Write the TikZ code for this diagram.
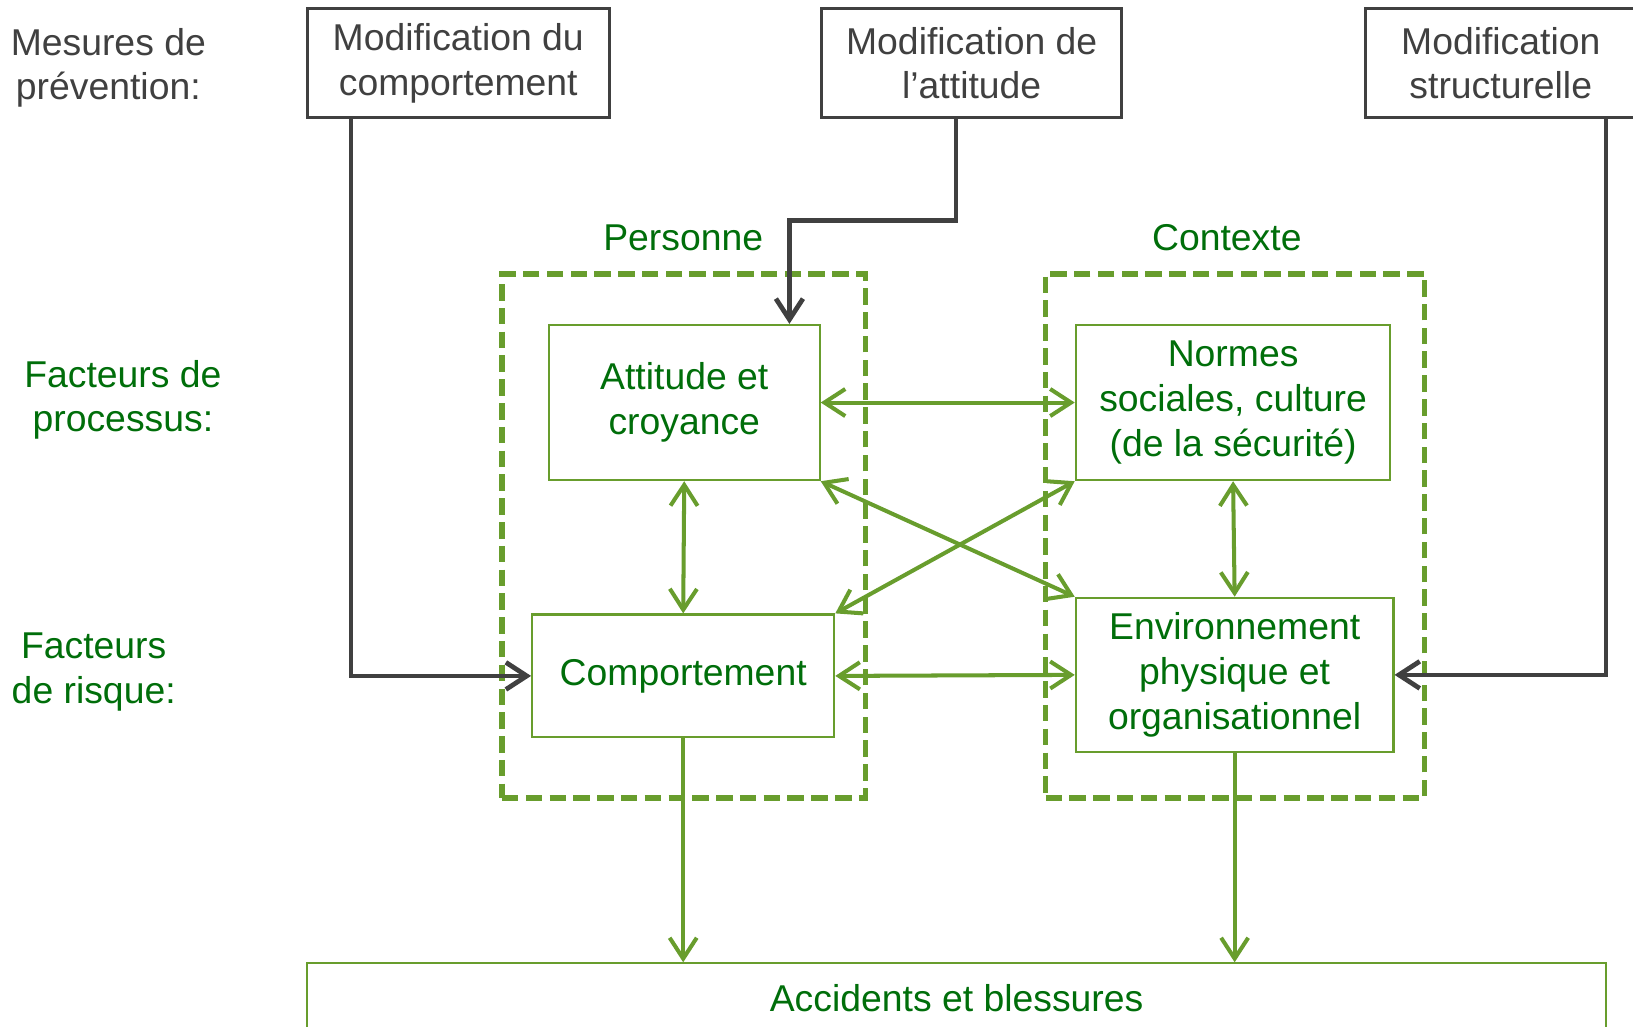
\documentclass[tikz,border=0pt]{standalone}
\usepackage{fontspec}
\setmainfont{Liberation Sans}
\usetikzlibrary{arrows.meta}
\definecolor{txtgreen}{RGB}{0,110,10}
\definecolor{lngreen}{RGB}{104,157,45}
\definecolor{darkgr}{RGB}{64,64,64}
\begin{document}
\begin{tikzpicture}[->,>={Straight Barb[length=2mm,width=2.6mm]},font=\fontsize{10.2pt}{12.2pt}\selectfont,
    measure/.style={draw=darkgr,line width=0.7pt,text=darkgr,align=center,inner sep=0pt,minimum height=1.05cm},
    factor/.style={draw=lngreen,line width=0.6pt,text=txtgreen,align=center,inner sep=0pt},
    area/.style={draw=lngreen,line width=1.5pt,dash pattern=on 4.5pt off 2pt,inner sep=0pt},
    note/.style={align=center,inner sep=0pt},
    link/.style={<->,lngreen,line width=1.1pt},
    push/.style={darkgr,line width=1.3pt}]
    \useasboundingbox (0,0) rectangle (15.68,-9.86);
    % rangees a gauche
    \node [note,text=darkgr] (mes) at (1.04,-0.65) {Mesures de\\pr\'evention:};
    \node [note,text=txtgreen] (proc) at (1.18,-3.84) {Facteurs de\\processus:};
    \node [note,text=txtgreen] (risk) at (0.90,-6.45) {Facteurs\\de risque:};
    % mesures de prevention
    \node [measure,minimum width=2.90cm] (modcomp) at (4.40,-0.605) {Modification du\\comportement};
    \node [measure,minimum width=2.88cm] (modatt) at (9.33,-0.605) {Modification de\\l'attitude};
    \node [measure,minimum width=2.60cm] (modstr) at (14.41,-0.605) {Modification\\structurelle};
    % personne et contexte
    \node [area,minimum width=3.49cm,minimum height=5.03cm] (pers) at (6.565,-5.145) {};
    \node [area,minimum width=3.64cm,minimum height=5.03cm] (ctx) at (11.86,-5.145) {};
    \node [note,text=txtgreen] (perslbl) at (6.56,-2.28) {Personne};
    \node [note,text=txtgreen] (ctxlbl) at (11.78,-2.28) {Contexte};
    \node [factor,minimum width=2.60cm,minimum height=1.49cm] (att) at (6.57,-3.865) {Attitude et\\croyance};
    \node [factor,minimum width=3.02cm,minimum height=1.49cm] (norm) at (11.84,-3.865) {Normes\\sociales, culture\\(de la s\'ecurit\'e)};
    \node [factor,minimum width=2.90cm,minimum height=1.18cm] (comp) at (6.56,-6.49) {Comportement};
    \node [factor,minimum width=3.05cm,minimum height=1.48cm] (env) at (11.855,-6.48) {Environnement\\physique et\\organisationnel};
    \node [factor,minimum width=12.47cm,minimum height=0.66cm] (acc) at (9.185,-9.58) {Accidents et blessures};
    % fleches des mesures
    \coordinate (bend) at (7.58,-2.12);
    \draw [push] ([xshift=-1.03cm]modcomp.south) |- (comp.west);
    \draw [push] ([xshift=-0.15cm]modatt.south) |- (bend) -- (bend |- att.north);
    \draw [push] ([xshift=1.01cm]modstr.south) |- (env.east);
    % liens entre facteurs
    \draw [link] (att.east) -- (norm.west);
    \draw [link] (att.south) -- (comp.north);
    \draw [link] (norm.south) -- (env.north);
    \draw [link] (comp.east) -- (env.west);
    \draw [link] (att.south east) -- (env.north west);
    \draw [link] (norm.south west) -- (comp.north east);
    \draw [link,-{Straight Barb[length=2mm,width=2.6mm]}] (comp.south) -- (comp.south |- acc.north);
    \draw [link,-{Straight Barb[length=2mm,width=2.6mm]}] (env.south) -- (env.south |- acc.north);
\end{tikzpicture}
\end{document}
